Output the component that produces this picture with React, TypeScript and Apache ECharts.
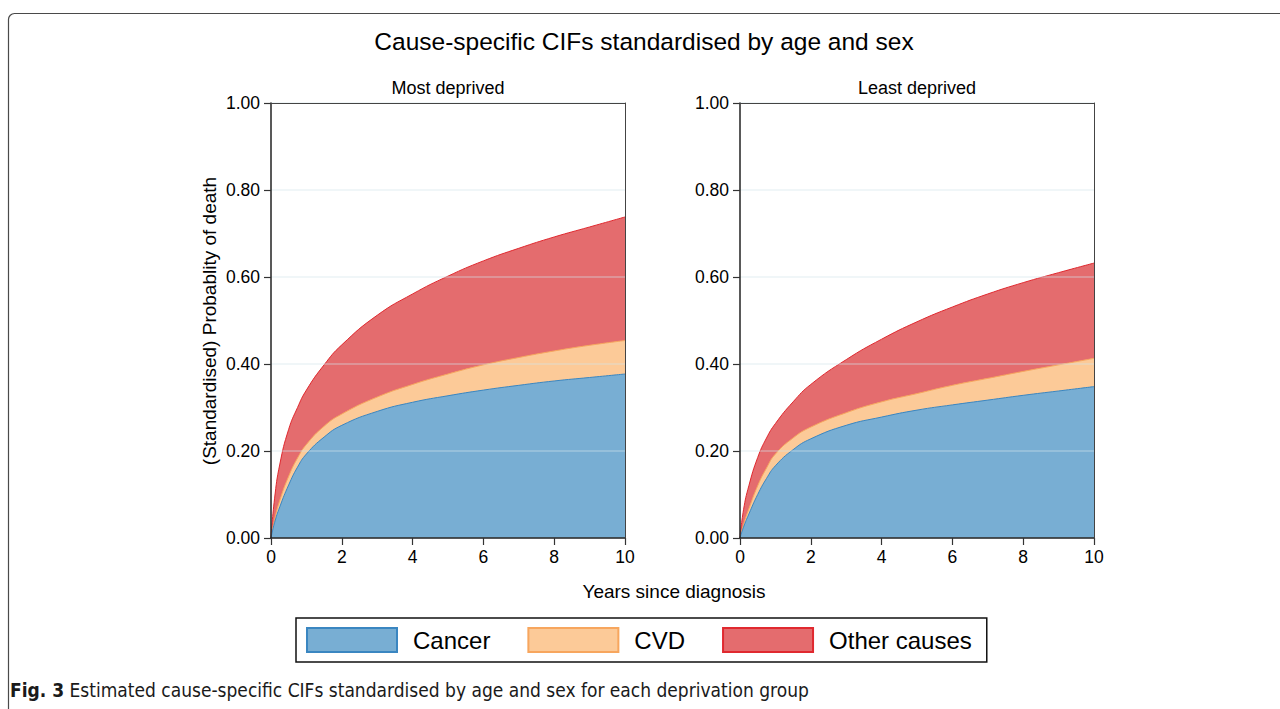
import React, { useEffect, useRef } from "react";
import * as echarts from "echarts";

const FONT = "'Liberation Sans', Arial, Helvetica, sans-serif";
const CAPTION_FONT = "'Liberation Sans Narrow', 'DejaVu Sans Condensed', 'Roboto Condensed', 'Noto Sans', sans-serif";

// Years since diagnosis (x positions of the estimated CIF points)
const years = [0, 0.1, 0.25, 0.5, 0.75, 1, 1.5, 2, 3, 4, 5, 6, 7, 8, 9, 10];

// Most deprived: cause-specific CIF components (stacked)
const mostCancer = [0, 0.035, 0.072, 0.122, 0.163, 0.193, 0.232, 0.259, 0.291, 0.312, 0.327, 0.34, 0.351, 0.361, 0.369, 0.377];
const mostCvd = [0, 0.007, 0.015, 0.02, 0.021, 0.022, 0.025, 0.026, 0.033, 0.041, 0.05, 0.058, 0.064, 0.069, 0.074, 0.077];
const mostOther = [0, 0.048, 0.083, 0.108, 0.116, 0.125, 0.141, 0.159, 0.188, 0.208, 0.225, 0.239, 0.251, 0.262, 0.272, 0.284];

// Least deprived
const leastCancer = [0, 0.025, 0.055, 0.1, 0.137, 0.166, 0.203, 0.228, 0.259, 0.278, 0.294, 0.306, 0.317, 0.328, 0.338, 0.348];
const leastCvd = [0, 0.006, 0.012, 0.02, 0.024, 0.027, 0.027, 0.027, 0.029, 0.035, 0.038, 0.045, 0.05, 0.055, 0.06, 0.065];
const leastOther = [0, 0.034, 0.053, 0.065, 0.069, 0.07, 0.083, 0.098, 0.122, 0.144, 0.165, 0.18, 0.194, 0.204, 0.212, 0.219];

const causes = ["Cancer", "CVD", "Other causes"];
const panelTitles = ["Most deprived", "Least deprived"];

const fills = ["#78aed3", "#fcca98", "#e46c6e"];
const edges = ["#3a86c1", "#f7a65e", "#e0292f"];

// cumulative sum of the components up to index k (built from the named arrays)
function cumulative(comps: number[][], k: number) {
  return years.map((x, i) => {
    let s = 0;
    for (let j = 0; j <= k; j++) s += comps[j][i];
    return [x, Math.round(s * 10000) / 10000];
  });
}

function panelSeries(idx: number, comps: number[][]) {
  const out: any[] = [];
  // draw the top band first so lower bands paint over it
  for (let k = comps.length - 1; k >= 0; k--) {
    out.push({
      type: "line",
      name: causes[k],
      xAxisIndex: idx,
      yAxisIndex: idx,
      data: cumulative(comps, k),
      smooth: 0.5,
      symbol: "none",
      lineStyle: { color: edges[k], width: 1 },
      itemStyle: { color: fills[k], borderColor: edges[k] },
      areaStyle: { color: fills[k], opacity: 1, origin: "start" },
      z: 3 + (comps.length - 1 - k),
      silent: true,
    });
  }
  return out;
}

export default function App() {
  const ref = useRef<HTMLDivElement>(null);

  useEffect(() => {
    if (!ref.current) return;
    const chart = echarts.init(ref.current, null, { renderer: "svg" });

    const gridLeft = [271, 740];
    const gridW = 354;
    const gridTop = 103;
    const gridH = 435;

    const xAxes: any[] = [];
    const yAxes: any[] = [];
    [0, 1].forEach((i) => {
      xAxes.push({
        type: "value",
        gridIndex: i,
        min: 0,
        max: 10,
        interval: 2,
        z: 10,
        axisLine: { show: true, lineStyle: { color: "#222", width: 1.5 } },
        axisTick: { show: true, length: 7, lineStyle: { color: "#333", width: 1.2 } },
        axisLabel: { margin: 10, color: "#000", fontSize: 17.5, fontFamily: FONT },
        splitLine: { show: false },
      });
      yAxes.push({
        type: "value",
        gridIndex: i,
        min: 0,
        max: 1,
        interval: 0.2,
        z: 10,
        axisLine: { show: true, lineStyle: { color: "#222", width: 1.5 } },
        axisTick: { show: true, length: 7, lineStyle: { color: "#333", width: 1.2 } },
        axisLabel: {
          margin: 11,
          color: "#000",
          fontSize: 17.5,
          fontFamily: FONT,
          formatter: (v: number) => v.toFixed(2),
        },
        // drawn above the areas (axis z = 10), translucent like the reference
        splitLine: { show: true, lineStyle: { color: "rgba(210,228,234,0.45)", width: 1.5 } },
      });
    });
    [0, 1].forEach((i) => {
      xAxes.push({
        type: "value",
        gridIndex: i,
        position: "top",
        min: 0,
        max: 10,
        z: 11,
        axisLine: { show: true, onZero: false, lineStyle: { color: "#444", width: 1 } },
        axisTick: { show: false },
        axisLabel: { show: false },
        splitLine: { show: false },
      });
      yAxes.push({
        type: "value",
        gridIndex: i,
        position: "right",
        min: 0,
        max: 1,
        z: 11,
        axisLine: { show: true, onZero: false, lineStyle: { color: "#444", width: 1 } },
        axisTick: { show: false },
        axisLabel: { show: false },
        splitLine: { show: false },
      });
    });

    const option: any = {
      animation: false,
      backgroundColor: "#fff",
      grid: gridLeft.map((l) => ({ left: l, top: gridTop, width: gridW, height: gridH, containLabel: false })),
      xAxis: xAxes,
      yAxis: yAxes,
      legend: {
        left: 296,
        top: 618,
        orient: "horizontal",
        padding: [9, 15, 9, 10],
        borderColor: "#111",
        borderWidth: 1.5,
        itemGap: 37,
        itemWidth: 90,
        itemHeight: 24,
        icon: "rect",
        selectedMode: false,
        textStyle: { fontSize: 24, fontFamily: FONT, color: "#000", padding: [0, 0, 0, 11] },
        data: causes.map((c, k) => ({
          name: c,
          icon: "rect",
          itemStyle: { color: fills[k], borderColor: edges[k], borderWidth: 2 },
        })),
      },
      series: [
        ...panelSeries(0, [mostCancer, mostCvd, mostOther]),
        ...panelSeries(1, [leastCancer, leastCvd, leastOther]),
      ],
      graphic: [
        {
          type: "rect",
          silent: true,
          shape: { x: 8.5, y: 13.5, width: 1400, height: 900, r: 6 },
          style: { fill: "none", stroke: "#4a4a4a", lineWidth: 1.2 },
          z: -1,
        },
        {
          type: "text",
          x: 644,
          y: 41,
          style: {
            text: "Cause-specific CIFs standardised by age and sex",
            fontSize: 24.5,
            fontFamily: FONT,
            fill: "#000",
            textAlign: "center",
            textVerticalAlign: "middle",
          },
        },
        ...panelTitles.map((t, i) => ({
          type: "text",
          x: gridLeft[i] + gridW / 2,
          y: 88,
          style: {
            text: t,
            fontSize: 18,
            fontFamily: FONT,
            fill: "#000",
            textAlign: "center",
            textVerticalAlign: "middle",
          },
        })),
        {
          type: "text",
          x: 209,
          y: 321,
          rotation: Math.PI / 2,
          style: {
            text: "(Standardised) Probablity of death",
            fontSize: 19,
            fontFamily: FONT,
            fill: "#000",
            textAlign: "center",
            textVerticalAlign: "middle",
          },
        },
        {
          type: "text",
          x: 674,
          y: 591,
          style: {
            text: "Years since diagnosis",
            fontSize: 19,
            fontFamily: FONT,
            fill: "#000",
            textAlign: "center",
            textVerticalAlign: "middle",
          },
        },
        {
          type: "text",
          x: 10,
          y: 690,
          style: {
            text: "{b|Fig. 3} Estimated cause-specific CIFs standardised by age and sex for each deprivation group",
            fontSize: 19,
            fontFamily: CAPTION_FONT,
            fill: "#1a1a1a",
            textAlign: "left",
            textVerticalAlign: "middle",
            rich: {
              b: {
                fontWeight: "bold",
                fontSize: 19,
                fontFamily: CAPTION_FONT,
                fill: "#1a1a1a",
              },
            },
          },
        },
      ],
    };

    chart.setOption(option);
    return () => chart.dispose();
  }, []);

  return (
    <div
      ref={ref}
      style={{ position: "fixed", left: 0, top: 0, width: 1280, height: 709 }}
    />
  );
}
